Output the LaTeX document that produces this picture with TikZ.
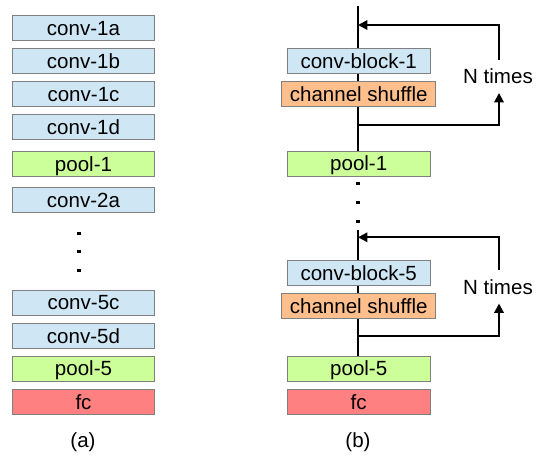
\documentclass[tikz,border=0pt]{standalone}
\usepackage{fontspec}
\setmainfont{Liberation Sans}
\usetikzlibrary{arrows.meta}
\definecolor{cblue}{HTML}{CFE7F5}
\definecolor{cgreen}{HTML}{CCFF99}
\definecolor{corange}{HTML}{FFBF8C}
\definecolor{cred}{HTML}{FF8080}
\definecolor{cborder}{HTML}{808080}
\begin{document}
\begin{tikzpicture}[x=0.75pt,y=-0.75pt,
  box/.style={draw=cborder,line width=0.75pt,rectangle,minimum width=107pt,minimum height=18.75pt,
    inner sep=0pt,text height=11pt,text depth=0pt,font=\fontsize{15.4pt}{18pt}\selectfont},
  bluebox/.style={box,fill=cblue},
  greenbox/.style={box,fill=cgreen},
  orangebox/.style={box,fill=corange,minimum width=115.5pt},
  redbox/.style={box,fill=cred},
  dotmark/.style={fill=black,rectangle,inner sep=0pt,minimum size=2.4pt},
  lbl/.style={font=\fontsize{15.4pt}{18pt}\selectfont,inner sep=0pt},
  conn/.style={line width=1.5pt},
  arr/.style={line width=1.5pt,-{Triangle[length=7pt,width=7pt]}}]
\useasboundingbox (0,0) rectangle (541,456);
% (a)
\node[bluebox] (c1a) at (83.5,27.7) {conv-1a};
\node[bluebox] (c1b) at (83.5,60.8) {conv-1b};
\node[bluebox] (c1c) at (83.5,94.2) {conv-1c};
\node[bluebox] (c1d) at (83.5,126.8) {conv-1d};
\node[greenbox] (p1a) at (83.5,163.7) {pool-1};
\node[bluebox] (c2a) at (83.5,200.2) {conv-2a};
\node[dotmark] (ad1) at (79,233.3) {};
\node[dotmark] (ad2) at (79,251.7) {};
\node[dotmark] (ad3) at (79,270.5) {};
\node[bluebox] (c5c) at (83.5,302.5) {conv-5c};
\node[bluebox] (c5d) at (83.5,335.7) {conv-5d};
\node[greenbox] (p5a) at (83.5,368.5) {pool-5};
\node[redbox] (fca) at (83.5,401.8) {fc};
\node[lbl] (la) at (83,442) {(a)};
% (b)
\coordinate (top1) at (358,6.5);
\node[bluebox] (cb1) at (358.7,60.8) {conv-block-1};
\node[orangebox] (cs1) at (358.7,94.5) {channel shuffle};
\node[greenbox] (pb1) at (358.7,163.5) {pool-1};
\coordinate (in1) at (358,25);
\coordinate (out1) at (358,125);
\coordinate (r1a) at (499,60);
\coordinate (r1b) at (499,93);
\node[lbl] (n1) at (498,76) {N times};
\draw[conn] (top1) -- (cb1.north -| top1);
\draw[conn] (cb1.south -| top1) -- (cs1.north -| top1);
\draw[conn] (cs1.south -| top1) -- (pb1.north -| top1);
\draw[arr] (r1a) |- (in1);
\draw[arr] (out1) -| (r1b);
\node[dotmark] (bd1) at (358,183.5) {};
\node[dotmark] (bd2) at (358,202.7) {};
\node[dotmark] (bd3) at (358,221.7) {};
\coordinate (top5) at (358,229.5);
\node[bluebox] (cb5) at (358.7,273.2) {conv-block-5};
\node[orangebox] (cs5) at (358.7,306.3) {channel shuffle};
\node[greenbox] (pb5) at (358.7,368.5) {pool-5};
\node[redbox] (fcb) at (358.7,401.8) {fc};
\coordinate (in5) at (358,237.3);
\coordinate (out5) at (358,336);
\coordinate (r5a) at (499,270);
\coordinate (r5b) at (499,303.5);
\node[lbl] (n5) at (498,287.3) {N times};
\draw[conn] (top5) -- (cb5.north -| top5);
\draw[conn] (cb5.south -| top5) -- (cs5.north -| top5);
\draw[conn] (cs5.south -| top5) -- (pb5.north -| top5);
\draw[arr] (r5a) |- (in5);
\draw[arr] (out5) -| (r5b);
\node[lbl] (lb) at (358,442) {(b)};
\end{tikzpicture}
\end{document}
